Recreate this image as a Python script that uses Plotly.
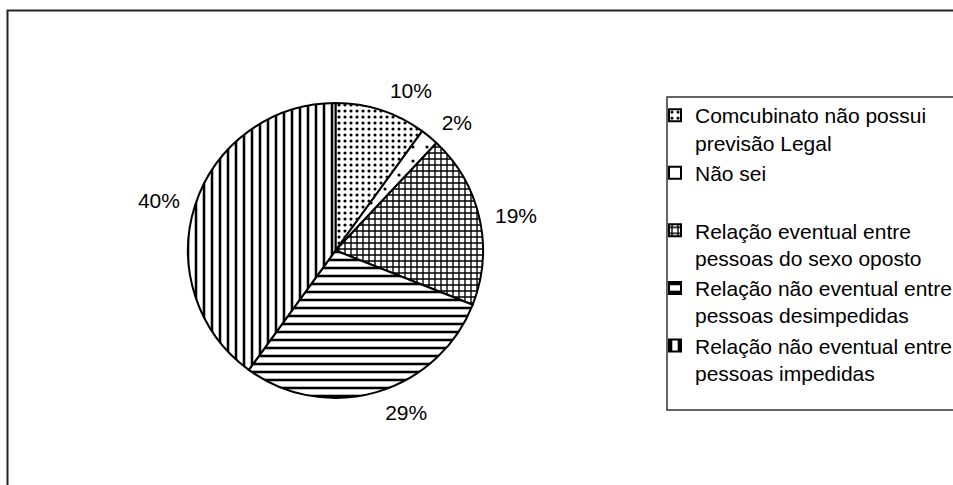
import plotly.graph_objects as go

labels = [
    "Comcubinato não possui<br>previsão Legal",
    "Não sei<br>&nbsp;",
    "Relação eventual entre<br>pessoas do sexo oposto",
    "Relação não eventual entre<br>pessoas desimpedidas",
    "Relação não eventual entre<br>pessoas impedidas",
]
values = [10, 2, 19, 29, 40]
pattern_shapes = [".", ".", "+", "-", "|"]
pattern_sizes = [6, 14, 6, 8, 8]
pattern_solidity = [0.22, 0.04, 0.4, 0.32, 0.32]

W, H = 953, 485
FONT = "Arial, 'Liberation Sans', sans-serif"
CX, CY, R = 335.5, 250.5, 147.5   # pie centre / radius in px
RL = R + 10                        # radius used to place outside percent labels


def dom(r):
    return dict(x=[(CX - r) / W, (CX + r) / W], y=[1 - (CY + r) / H, 1 - (CY - r) / H])


fig = go.Figure()

# invisible copy of the pie, slightly larger, only to carry the outside percent labels
fig.add_trace(go.Pie(
    labels=labels, values=values, sort=False, direction="clockwise", rotation=0,
    texttemplate="%{percent:.0%}", textposition="outside",
    textfont=dict(family=FONT, size=21, color="black"),
    marker=dict(colors=["rgba(0,0,0,0)"] * len(values), line=dict(width=0)),
    domain=dom(RL), showlegend=False, hoverinfo="skip",
))

fig.add_trace(go.Pie(
    labels=labels,
    values=values,
    sort=False,
    direction="clockwise",
    rotation=0,
    textinfo="none",
    marker=dict(
        colors=["white"] * len(values),
        line=dict(color="black", width=2),
        pattern=dict(
            shape=pattern_shapes,
            size=pattern_sizes,
            solidity=pattern_solidity,
            fgcolor="black",
            bgcolor="white",
            fillmode="replace",
        ),
    ),
    domain=dom(R),
    hoverinfo="label+percent",
))

fig.update_layout(
    width=W,
    height=H,
    margin=dict(l=0, r=0, t=0, b=0, autoexpand=False),
    paper_bgcolor="white",
    plot_bgcolor="white",
    font=dict(family=FONT, size=21, color="black"),
    showlegend=True,
    legend=dict(
        x=655 / W,
        y=1 - 95 / H,
        xanchor="left",
        yanchor="top",
        valign="top",
        bgcolor="rgba(0,0,0,0)",
        borderwidth=0,
        font=dict(family=FONT, size=21, color="black"),
        traceorder="normal",
    ),
    shapes=[
        dict(type="rect", xref="paper", yref="paper",
             x0=7.5 / W, x1=1.5, y0=-0.5, y1=1 - 10.5 / H,
             line=dict(color="#222", width=2), fillcolor="rgba(0,0,0,0)", layer="below"),
        dict(type="rect", xref="paper", yref="paper",
             x0=667 / W, x1=1.5, y0=1 - 410 / H, y1=1 - 97 / H,
             line=dict(color="#333", width=1.5), fillcolor="rgba(0,0,0,0)", layer="below"),
    ],
)

fig.write_html("out.html")
